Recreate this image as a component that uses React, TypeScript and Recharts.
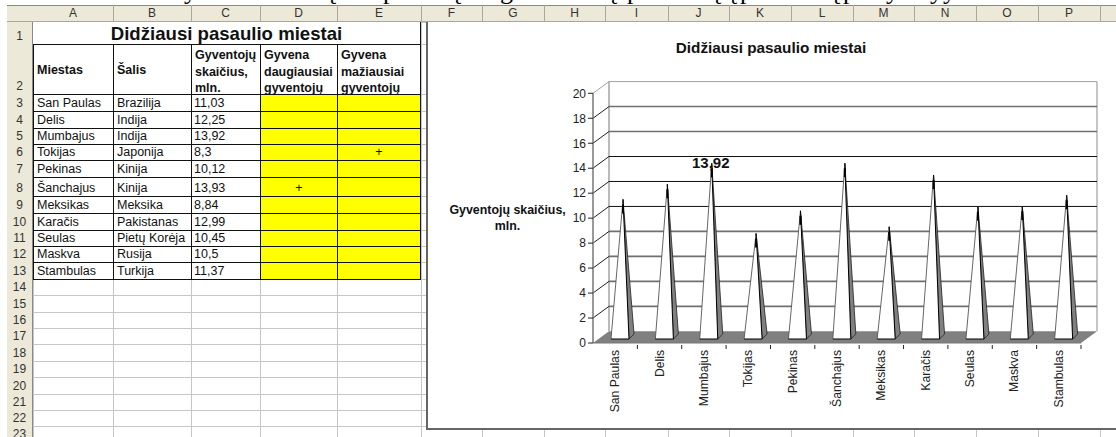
import { Bar, BarChart, CartesianGrid, LabelList, XAxis, YAxis } from 'recharts';

const cities = ['San Paulas', 'Delis', 'Mumbajus', 'Tokijas', 'Pekinas', 'Šanchajus', 'Meksikas', 'Karačis', 'Seulas', 'Maskva', 'Stambulas'];
const countries = ['Brazilija', 'Indija', 'Indija', 'Japonija', 'Kinija', 'Kinija', 'Meksika', 'Pakistanas', 'Pietų Korėja', 'Rusija', 'Turkija'];
const population = [11.03, 12.25, 13.92, 8.3, 10.12, 13.93, 8.84, 12.99, 10.45, 10.5, 11.37];
const mostMarks = ['', '', '', '', '', '+', '', '', '', '', ''];
const leastMarks = ['', '', '', '+', '', '', '', '', '', '', ''];
const yTicks = [0, 2, 4, 6, 8, 10, 12, 14, 16, 18, 20];
const labelledCities = ['Mumbajus'];
const columnNames = ['A', 'B', 'C', 'D', 'E', 'F', 'G', 'H', 'I', 'J', 'K', 'L', 'M', 'N', 'O', 'P'];

const data = cities.map((name, i) => ({ name, value: population[i] }));

const COL_EDGES = [33, 113, 191, 260, 337, 421, 482, 544, 605, 668, 729, 791, 853, 914, 976, 1038, 1100, 1116];
const ROW_EDGES = [22, 44, 94, 111, 128, 144, 160, 177, 196, 213, 230, 246, 262, 279, 295, 312, 328, 344, 361, 377, 394, 410, 426, 442];
// descenders of the line of text cut off above the sheet
const CUT_OFF = [['y', 184], ['ų', 323], ['p', 383], ['ų', 448], ['g', 500], ['ų', 604], ['p', 627], ['ų', 708], ['ų', 724], ['p', 740], ['ų', 827], ['p', 843], ['y', 886], ['y', 930], ['y', 943]];

const SANS = '"Liberation Sans", Arial, sans-serif';
const DEPTH_X = 16;
const DEPTH_Y = 11.7;
const PLOT_LEFT = 166;
const PLOT_TOP = 71.3;
const PLOT_BOTTOM = 321;
const PLOT_RIGHT = 654;

function Box({ x, y, w, h, style, children }: any) {
  return (
    <div
      style={{
        position: 'absolute',
        left: x,
        top: y,
        width: w,
        height: h,
        boxSizing: 'border-box',
        whiteSpace: 'nowrap',
        ...style,
      }}
    >
      {children}
    </div>
  );
}

function Sheet() {
  const headFill = { background: '#ece9d8', color: '#333', fontSize: 12, textAlign: 'center' as const };
  const black = '1px solid #111';
  const cell = { fontSize: 12.5, color: '#111', paddingLeft: 3, display: 'flex', alignItems: 'flex-end', lineHeight: '15px' };
  const headRow = (lines: string[]) => lines.map((l) => <div key={l}>{l}</div>);
  const bold = { fontSize: 12.5, fontWeight: 700, color: '#111', lineHeight: '16.5px', paddingLeft: 3, paddingTop: 2 };

  return (
    <>
      {/* empty sheet grid */}
      {COL_EDGES.slice(0, -1).map((x, c) =>
        ROW_EDGES.slice(0, -1).map((y, r) => (
          <Box
            key={`${c}-${r}`}
            x={x}
            y={y}
            w={COL_EDGES[c + 1] - x + 1}
            h={ROW_EDGES[r + 1] - y + 1}
            style={{ border: '1px solid #c6c6c6' }}
          />
        )),
      )}

      {/* column and row headers */}
      <Box x={7} y={5} w={1109} h={17} style={{ background: '#ece9d8', borderTop: '1px solid #888', borderBottom: '1px solid #aca899' }} />
      {columnNames.map((name, c) => (
        <Box
          key={name}
          x={COL_EDGES[c]}
          y={5}
          w={COL_EDGES[c + 1] - COL_EDGES[c] + 1}
          h={17}
          style={{ ...headFill, background: 'none', borderRight: '1px solid #aca899', lineHeight: '17px' }}
        >
          {name}
        </Box>
      ))}
      {ROW_EDGES.slice(0, -1).map((y, r) => (
        <Box
          key={r}
          x={7}
          y={y}
          w={26}
          h={ROW_EDGES[r + 1] - y + 1}
          style={{ ...headFill, borderBottom: '1px solid #aca899', borderRight: '1px solid #888', display: 'flex', alignItems: 'flex-end', justifyContent: 'center', lineHeight: '15px' }}
        >
          {r + 1}
        </Box>
      ))}

      {/* title row */}
      <Box
        x={33}
        y={22}
        w={388}
        h={23}
        style={{ background: '#fff', borderBottom: black, borderRight: black, fontFamily: SANS, fontSize: 18.6, fontWeight: 700, textAlign: 'center', lineHeight: '23px', color: '#111' }}
      >
        Didžiausi pasaulio miestai
      </Box>

      {/* column titles */}
      <Box x={33} y={44} w={81} h={51} style={{ ...bold, background: '#fff', border: black, paddingTop: 17 }}>Miestas</Box>
      <Box x={113} y={44} w={79} h={51} style={{ ...bold, background: '#fff', border: black, paddingTop: 17 }}>Šalis</Box>
      <Box x={191} y={44} w={70} h={51} style={{ ...bold, background: '#fff', border: black }}>{headRow(['Gyventojų', 'skaičius,', 'mln.'])}</Box>
      <Box x={260} y={44} w={78} h={51} style={{ ...bold, background: '#fff', border: black }}>{headRow(['Gyvena', 'daugiausiai', 'gyventojų'])}</Box>
      <Box x={337} y={44} w={84} h={51} style={{ ...bold, background: '#fff', border: black }}>{headRow(['Gyvena', 'mažiausiai', 'gyventojų'])}</Box>

      {/* city rows */}
      {cities.map((city, i) => {
        const y = ROW_EDGES[i + 2];
        const h = ROW_EDGES[i + 3] - y + 1;
        return [
          <Box key={`a${i}`} x={33} y={y} w={81} h={h} style={{ ...cell, background: '#fff', border: black }}>{city}</Box>,
          <Box key={`b${i}`} x={113} y={y} w={79} h={h} style={{ ...cell, background: '#fff', border: black }}>{countries[i]}</Box>,
          <Box key={`c${i}`} x={191} y={y} w={70} h={h} style={{ ...cell, background: '#fff', border: black, paddingLeft: 2 }}>{String(population[i]).replace('.', ',')}</Box>,
          <Box key={`d${i}`} x={260} y={y} w={78} h={h} style={{ ...cell, background: '#ffff00', border: black, paddingLeft: 0, justifyContent: 'center' }}>{mostMarks[i]}</Box>,
          <Box key={`e${i}`} x={337} y={y} w={84} h={h} style={{ ...cell, background: '#ffff00', border: black, paddingLeft: 0, justifyContent: 'center' }}>{leastMarks[i]}</Box>,
        ];
      })}
    </>
  );
}

// horizontal grid line on the back wall plus its diagonal along the side wall
function WallLine(props: any) {
  const { x1, x2, y1 } = props;
  const value = Math.round(((PLOT_BOTTOM - y1) / (PLOT_BOTTOM - PLOT_TOP)) * 20);
  const backY = y1 - DEPTH_Y;
  const x1b = x1 + DEPTH_X;
  const x2b = x2 + DEPTH_X;

  if (value === 0) {
    return (
      <g key={props.key}>
        <polygon points={`${x1},${y1} ${x2},${y1} ${x2b},${backY} ${x1b},${backY}`} fill="#808080" />
        <line x1={x1b} x2={x1b} y1={PLOT_TOP - DEPTH_Y} y2={backY} stroke="#8c8c8c" strokeWidth={1.2} />
        <line x1={x2b} x2={x2b} y1={PLOT_TOP - DEPTH_Y} y2={backY} stroke="#a0a0a0" strokeWidth={1.2} />
      </g>
    );
  }
  const thin = value >= 10 && value <= 14;
  const stroke = value === 20 ? '#a0a0a0' : thin ? '#111' : '#707070';
  return (
    <g key={props.key}>
      <line x1={x1b} x2={x2b} y1={backY} y2={backY} stroke={stroke} strokeWidth={thin || value === 20 ? 1 : 1.6} />
      <line x1={x1} x2={x1b} y1={y1} y2={backY} stroke={value === 20 ? '#a0a0a0' : '#222'} strokeWidth={1} />
    </g>
  );
}

function Cone(props: any) {
  const { x, y, width, height } = props;
  const left = x + DEPTH_X / 2;
  const right = left + width * 0.75;
  const side = left + width * 0.96;
  const baseY = y + height - 4;
  const apexX = left + width / 2;
  const apexY = y - DEPTH_Y / 2;
  return (
    <g>
      <polygon points={`${right},${baseY} ${side},${baseY - 5} ${apexX},${apexY}`} fill="#808080" stroke="#222" strokeWidth={0.8} />
      <polygon points={`${left},${baseY} ${right},${baseY} ${apexX},${apexY}`} fill="#fff" />
      <line x1={left} y1={baseY} x2={apexX} y2={apexY} stroke="#555" strokeWidth={0.9} />
      <line x1={right} y1={baseY} x2={apexX} y2={apexY} stroke="#000" strokeWidth={1} />
      <line x1={left} y1={baseY} x2={right} y2={baseY} stroke="#000" strokeWidth={1} />
      {/* the outlines merge into a dark blob just under the tip */}
      <line x1={apexX} y1={apexY + 5} x2={apexX} y2={apexY + 14} stroke="#000" strokeWidth={2} />
    </g>
  );
}

function CityTick(props: any) {
  const { x, y, payload } = props;
  const band = (PLOT_RIGHT - PLOT_LEFT) / cities.length;
  return (
    <g>
      <line x1={x + band / 2} x2={x + band / 2} y1={y - 6} y2={y - 2} stroke="#222" />
      <text
        x={x}
        y={y - 1}
        transform={`rotate(-90 ${x} ${y - 1})`}
        dy={4}
        textAnchor="end"
        fontFamily={SANS}
        fontSize={12.2}
        fill="#222"
      >
        {payload.value}
      </text>
    </g>
  );
}

function PeakLabel(props: any) {
  const { x, y, width, index, value } = props;
  if (!labelledCities.includes(cities[index])) return null;
  return (
    <text
      x={x + width / 2 + DEPTH_X / 2 - 1}
      y={y - 1.5}
      textAnchor="middle"
      fontFamily={SANS}
      fontSize={15}
      fontWeight={700}
      fill="#111"
    >
      {String(value).replace('.', ',')}
    </text>
  );
}

export default function App() {
  return (
    <div style={{ position: 'absolute', left: 0, top: 0, width: 1116, height: 437, overflow: 'hidden', background: '#fff', fontFamily: SANS }}>
      {CUT_OFF.map(([ch, x], i) => (
        <div key={i} style={{ position: 'absolute', left: x as number, top: -24, fontFamily: '"Liberation Serif", serif', fontSize: 26, lineHeight: '30px', color: '#000' }}>
          {ch}
        </div>
      ))}
      <Sheet />
      <div style={{ position: 'absolute', left: 426, top: 22, width: 690, height: 408, background: '#fff', borderLeft: '2px solid #666', borderBottom: '2px solid #666', boxSizing: 'border-box' }} />
      <div style={{ position: 'absolute', left: 427, top: 22 }}>
        <BarChart
          width={689}
          height={407}
          data={data}
          margin={{ top: PLOT_TOP, right: 689 - PLOT_RIGHT, bottom: 17, left: PLOT_LEFT - 40 }}
          barSize={24}
        >
          <CartesianGrid horizontal={WallLine} vertical={false} />
          <XAxis
            dataKey="name"
            height={69}
            interval={0}
            axisLine={{ stroke: '#777', strokeWidth: 1.2 }}
            tickLine={false}
            tick={<CityTick />}
          />
          <YAxis
            width={40}
            domain={[0, 20]}
            ticks={yTicks}
            interval={0}
            axisLine={{ stroke: '#777', strokeWidth: 1.5 }}
            tickLine={{ stroke: '#222' }}
            tickSize={5}
            tickMargin={2}
            tick={{ fontFamily: SANS, fontSize: 12, fill: '#222' }}
          />
          <Bar dataKey="value" shape={<Cone />} isAnimationActive={false}>
            <LabelList dataKey="value" content={<PeakLabel />} />
          </Bar>
          <text x={344} y={31} textAnchor="middle" fontFamily={SANS} fontSize={15.3} fontWeight={700} fill="#111">
            Didžiausi pasaulio miestai
          </text>
          <text x={80.6} y={192} textAnchor="middle" fontFamily={SANS} fontSize={12.4} fontWeight={700} fill="#111">
            Gyventojų skaičius,
          </text>
          <text x={80.6} y={208} textAnchor="middle" fontFamily={SANS} fontSize={12.4} fontWeight={700} fill="#111">
            mln.
          </text>
        </BarChart>
      </div>
    </div>
  );
}
